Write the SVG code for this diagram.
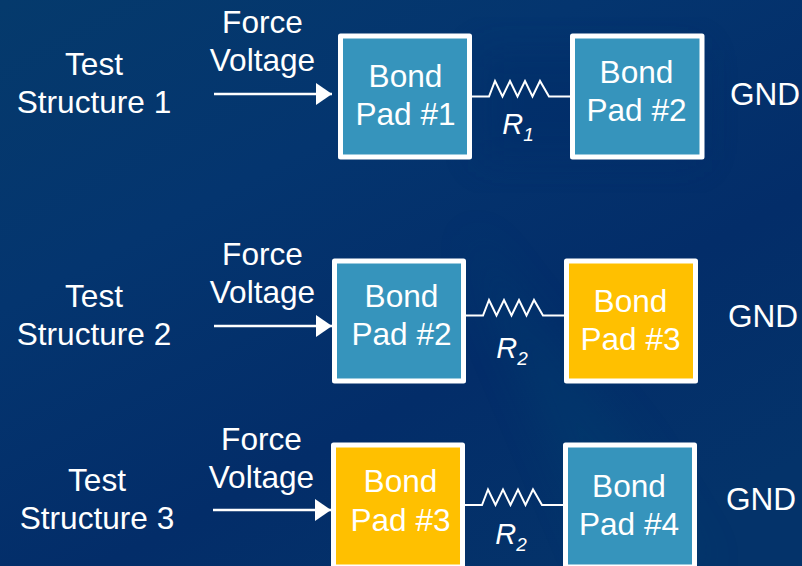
<svg xmlns="http://www.w3.org/2000/svg" width="802" height="566" viewBox="0 0 802 566">
<style>
text{font-family:"Liberation Sans",Arial,sans-serif;font-size:31.600px;fill:#fff;text-anchor:middle}
.pad{stroke:#fff;stroke-width:5;stroke-linejoin:round}
.blue{fill:#3694bc}
.gold{fill:#ffc000}
.wire{fill:none;stroke:#fff;stroke-width:2}
.arrow{fill:none;stroke:#fff;stroke-width:2.500;marker-end:url(#ah)}
text.r{font-style:italic;font-size:29px}
.sub{font-size:19px}
</style>
<defs>
<linearGradient id="bg" x1="0" y1="0" x2="0.75" y2="1">
<stop offset="0" stop-color="#053a6c"/><stop offset="0.35" stop-color="#04356f"/><stop offset="0.7" stop-color="#032d69"/><stop offset="1" stop-color="#04336a"/>
</linearGradient>
<filter id="soft" x="-30%" y="-30%" width="160%" height="160%"><feGaussianBlur stdDeviation="18"/></filter>
<marker id="ah" markerUnits="userSpaceOnUse" markerWidth="16" markerHeight="22" refX="16" refY="11" orient="auto"><path d="M0,0L16,11L0,22Z" fill="#fff"/></marker>
</defs>
<rect width="802" height="566" fill="url(#bg)"/>
<path d="M470,230L640,450L710,566L600,566L500,330Z" fill="#05406f" opacity=".35" filter="url(#soft)"/>
<path d="M480,50L700,50L700,160L480,160Z" fill="#032c66" opacity=".4" filter="url(#soft)"/>
<g id="connectors">
<path class="arrow" d="M214,94H332"/>
<path class="arrow" d="M214,326H332"/>
<path class="arrow" d="M213,510H331"/>
<path class="wire" d="M472,96.500H489L495,81L502.500,96.500L510,81L517.500,96.500L525,81L532.500,96.500L540,81L549,96.500H571"/>
<path class="wire" d="M466,315.500H483L489,300L496.500,315.500L504,300L511.500,315.500L519,300L526.500,315.500L534,300L543,315.500H565"/>
<path class="wire" d="M465,505H482L488,489.500L495.500,505L503,489.500L510.500,505L518,489.500L525.500,505L533,489.500L542,505H564"/>
</g>
<g id="label-ts1"><text x="94" y="75">Test</text><text x="94" y="113">Structure 1</text></g>
<g id="label-fv1"><text x="262.500" y="33">Force</text><text x="262.500" y="71">Voltage</text></g>
<g id="pad1"><rect class="pad blue" x="340.500" y="36" width="129" height="121"/><text x="405.500" y="87">Bond</text><text x="405.500" y="125">Pad #1</text></g>
<g id="pad2"><rect class="pad blue" x="572.500" y="36" width="129.500" height="121"/><text x="636.500" y="83">Bond</text><text x="636.500" y="121">Pad #2</text></g>
<g id="r1"><text class="r" x="518" y="134">R<tspan class="sub" dy="7">1</tspan></text></g>
<g id="gnd1"><text x="765" y="105">GND</text></g>
<g id="label-ts2"><text x="94" y="307">Test</text><text x="94" y="345">Structure 2</text></g>
<g id="label-fv2"><text x="262.500" y="265">Force</text><text x="262.500" y="303">Voltage</text></g>
<g id="pad3"><rect class="pad blue" x="334.500" y="261" width="129" height="120"/><text x="401.500" y="307">Bond</text><text x="401.500" y="345">Pad #2</text></g>
<g id="pad4"><rect class="pad gold" x="566.500" y="261" width="129" height="120"/><text x="630.500" y="312">Bond</text><text x="630.500" y="350">Pad #3</text></g>
<g id="r2"><text class="r" x="512" y="358">R<tspan class="sub" dy="7">2</tspan></text></g>
<g id="gnd2"><text x="763" y="327">GND</text></g>
<g id="label-ts3"><text x="97" y="491">Test</text><text x="97" y="529">Structure 3</text></g>
<g id="label-fv3"><text x="261.500" y="450">Force</text><text x="261.500" y="488">Voltage</text></g>
<g id="pad5"><rect class="pad gold" x="333.500" y="445" width="129" height="122"/><text x="400.500" y="492">Bond</text><text x="400.500" y="531">Pad #3</text></g>
<g id="pad6"><rect class="pad blue" x="565.500" y="445" width="129" height="122"/><text x="629" y="497">Bond</text><text x="629" y="535">Pad #4</text></g>
<g id="r3"><text class="r" x="511" y="544">R<tspan class="sub" dy="7">2</tspan></text></g>
<g id="gnd3"><text x="761" y="510">GND</text></g>
</svg>
